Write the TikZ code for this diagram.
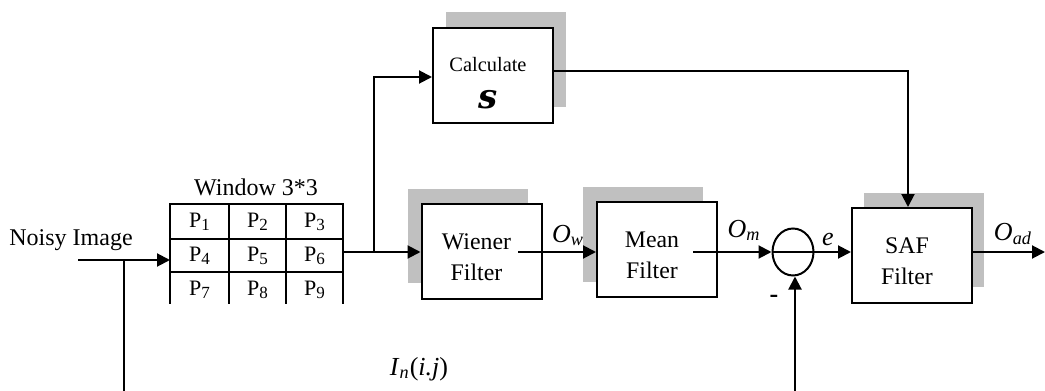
\documentclass[tikz,border=0pt]{standalone}
\usepackage{fontspec}
\setmainfont{Liberation Serif}
\newfontfamily\sfont{DejaVu Serif}
\usetikzlibrary{arrows.meta,calc,shapes.geometric}
\definecolor{shadowgray}{RGB}{192,192,192}
\begin{document}
\begin{tikzpicture}[x=0.5pt,y=-0.5pt,
  box/.style={draw,line width=1pt,fill=white,minimum width=60pt,minimum height=47.5pt,inner sep=0pt,align=center,font=\fontsize{11.9}{15.5}\selectfont},
  conn/.style={line width=1pt,-{Triangle[length=6.5pt,width=6.5pt]}},
  wire/.style={line width=1pt},
  gridline/.style={line width=0.85pt},
  cell/.style={inner sep=0pt,anchor=base,font=\fontsize{11}{12}\selectfont},
  lbl/.style={inner sep=0pt,anchor=base,font=\fontsize{13}{15}\selectfont},
  txt/.style={inner sep=0pt,anchor=base,font=\fontsize{12}{14}\selectfont}]
\newcommand{\psub}[2]{#1\raisebox{-0.35ex}{\fontsize{8.5}{9}\selectfont #2}}
\newcommand{\twoline}[2]{\rule{0pt}{14pt}#1\hspace*{5pt}\\#2\hspace*{5pt}}
\useasboundingbox (0,0) rectangle (1045,391);
% shadows
\fill[shadowgray] (446,12) rectangle (566,107);
\fill[shadowgray] (408,189) rectangle (528,283);
\fill[shadowgray] (583,187) rectangle (703,282);
\fill[shadowgray] (864,193) rectangle (984,287);
% boxes
\node[box] (calc) at (493,75.5) {\rule{0pt}{15pt}{\fontsize{10.2}{12}\selectfont Calculate}\hspace*{5pt}\\[3pt]{\fontsize{17}{17}\sfont\bfseries\itshape s}\hspace*{5pt}};
\node[box] (wiener) at (481.5,251.5) {\twoline{Wiener}{Filter}};
\node[box] (mean) at (657,249.5) {\twoline{Mean}{Filter}};
\node[box] (saf) at (912,255.5) {\twoline{SAF}{Filter}};
\node[draw,ellipse,line width=1pt,minimum width=20.5pt,minimum height=23.5pt,inner sep=0pt] (sum) at (793,252) {};
\draw[wire] (sum.west) -- (sum.east);
% window grid
\node[txt] (wlabel) at (256,195) {Window 3*3};
\begin{scope}
\clip (160,160) rectangle (360,303);
\draw[gridline] (170,310) -- (170,204) -- (343,204) -- (343,310);
\draw[gridline] (170,239) -- (343,239);
\draw[gridline] (170,272) -- (343,272);
\draw[gridline] (229,204) -- (229,310);
\draw[gridline] (286,204) -- (286,310);
\node[cell] (p1) at (199.5,227) {\psub{P}{1}};
\node[cell] (p2) at (257.5,227) {\psub{P}{2}};
\node[cell] (p3) at (314.5,227) {\psub{P}{3}};
\node[cell] (p4) at (199.5,261) {\psub{P}{4}};
\node[cell] (p5) at (257.5,261) {\psub{P}{5}};
\node[cell] (p6) at (314.5,261) {\psub{P}{6}};
\node[cell] (p7) at (199.5,295) {\psub{P}{7}};
\node[cell] (p8) at (257.5,295) {\psub{P}{8}};
\node[cell] (p9) at (314.5,295) {\psub{P}{9}};
\end{scope}
% labels
\node[txt] (noisy) at (71,245) {Noisy Image};
\node[lbl] (ow) at (568,242) {\textit{O}\textsubscript{\textit{w}}};
\node[lbl] (om) at (744,237) {\textit{O}\textsubscript{\textit{m}}};
\node[lbl] (e) at (828,245) {\textit{e}};
\node[lbl] (oad) at (1013,240) {\textit{O}\textsubscript{\textit{ad}}};
\node[lbl] (minus) at (774,302) {\textbf{-}};
\node[lbl] (in) at (419,375) {\textit{I}\textsubscript{\textit{n}}(\textit{i.j})};
% coordinates
\coordinate (nin) at (78,260);
\coordinate (gw) at (170,260);
\coordinate (tap) at (124,260);
\coordinate (tapb) at (124,391);
\coordinate (ge) at (343,252);
\coordinate (br) at (374,252);
\coordinate (wo) at (518,252);
\coordinate (mo) at (693,252);
\coordinate (out) at (1045,252);
\coordinate (fb) at (795,391);
% connectors
\draw[conn] (nin) -- (gw);
\draw[wire] (tap) -- (tapb);
\draw[conn] (ge) -- (wiener.west |- ge);
\draw[conn] (br) |- ([yshift=-0.75pt]calc.west);
\draw[conn] ([yshift=2.25pt]calc.east) -| ([xshift=-2pt]saf.north);
\draw[conn] (wo) -- (mean.west |- wo);
\draw[conn] (mo) -- (sum.west);
\draw[conn] (sum.east) -- (saf.west |- sum.east);
\draw[conn] (saf.east |- out) -- (out);
\draw[conn] (fb) -- (fb |- sum.south);
\end{tikzpicture}
\end{document}
